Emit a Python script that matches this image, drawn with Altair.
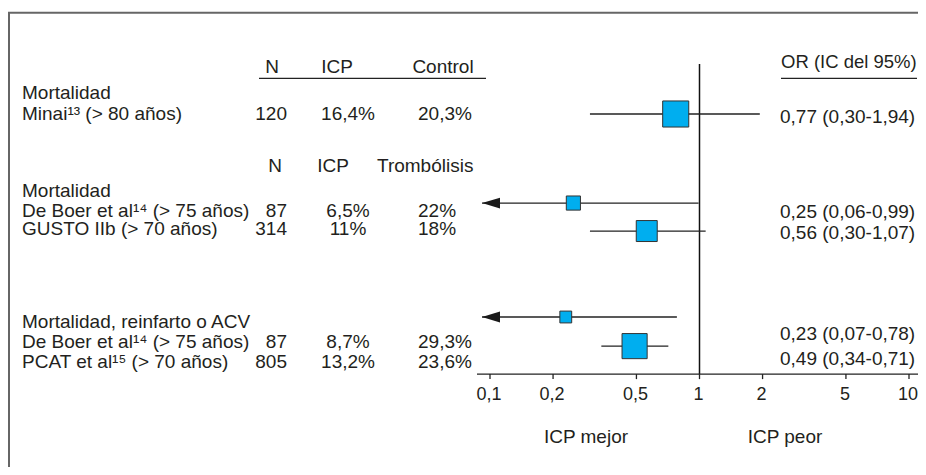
import altair as alt
import pandas as pd

# ------------------------------------------------------------------ data
group_titles = ["Mortalidad", "Mortalidad", "Mortalidad, reinfarto o ACV"]
study_labels = [
    "Minai¹³ (> 80 años)",
    "De Boer et al¹⁴ (> 75 años)",
    "GUSTO IIb (> 70 años)",
    "De Boer et al¹⁴ (> 75 años)",
    "PCAT et al¹⁵ (> 70 años)",
]
n_values = ["120", "87", "314", "87", "805"]
icp_values = ["16,4%", "6,5%", "11%", "8,7%", "13,2%"]
comparator_values = ["20,3%", "22%", "18%", "29,3%", "23,6%"]
odds_ratio = [0.77, 0.25, 0.56, 0.23, 0.49]
ci_low = [0.30, 0.06, 0.30, 0.07, 0.34]
ci_high = [1.94, 0.99, 1.07, 0.78, 0.71]
box_weight = [6.8, 2.0, 4.4, 1.4, 6.3]
or_labels = ["0,77 (0,30-1,94)", "0,25 (0,06-0,99)", "0,56 (0,30-1,07)",
             "0,23 (0,07-0,78)", "0,49 (0,34-0,71)"]
header_1 = ["N", "ICP", "Control"]
header_2 = ["N", "ICP", "Trombólisis"]
or_header = ["OR (IC del 95%)"]
tick_values = [0.1, 0.2, 0.5, 1, 2, 5, 10]
tick_labels = ["0,1", "0,2", "0,5", "1", "2", "5", "10"]
side_labels = ["ICP mejor", "ICP peor"]

# ------------------------------------------------------------------ layout
W, H = 910, 459
ROW = 28.0            # px per row unit
Y0 = 106.0            # px of row 0
LOG_PX = 209.5        # px per decade
X1 = 691.5            # px of OR = 1
x_dom = [10 ** (-X1 / LOG_PX), 10 ** ((W - X1) / LOG_PX)]
y_dom = [-Y0 / ROW, (H - Y0) / ROW]
ARROW_AT = 10 ** ((474 - X1) / LOG_PX)

marker_rows = [0.0, 3.18, 4.18, 7.25, 8.29]
label_rows = [0.21, 3.68, 4.32, 8.36, 9.07]
or_rows = [0.32, 3.71, 4.46, 8.07, 8.96]
group_rows = [-0.54, 2.96, 7.64]
h1_row, h2_row, orh_row, uline_row = -1.46, 2.07, -1.64, -1.275
vline_top, axis_row, side_row = -1.79, 9.29, 11.75
tick_end_row = axis_row + 5 / ROW
tick_label_row = 10.2

FONT = "Liberation Sans"
FS = 19
TXT = "#231F20"
LINE = "#222222"

xs = alt.Scale(type="log", domain=x_dom, nice=False, zero=False)
ys = alt.Scale(domain=y_dom, reverse=True, nice=False, zero=False)

df = pd.DataFrame({
    "label": study_labels, "n": n_values, "icp": icp_values, "ctrl": comparator_values,
    "or": odds_ratio, "lo": ci_low, "hi": ci_high, "w": box_weight, "ortxt": or_labels,
    "mrow": marker_rows, "lrow": label_rows, "orow": or_rows,
})
df["lo_clip"] = [max(v, ARROW_AT) for v in df["lo"]]
df["arrow"] = [v < ARROW_AT for v in df["lo"]]

ticks = pd.DataFrame({"v": tick_values, "t": tick_labels,
                      "y1": [axis_row] * len(tick_values),
                      "y2": [tick_end_row] * len(tick_values),
                      "ly": [tick_label_row] * len(tick_values)})

one = pd.DataFrame({"a": [0]})


def Y(field):
    return alt.Y(field, type="quantitative", scale=ys, axis=None)


def X(field):
    return alt.X(field, type="quantitative", scale=xs, axis=None)


def text_layer(data, field, yfield, x, align, size=FS):
    return alt.Chart(data).mark_text(
        align=align, baseline="alphabetic", font=FONT, fontSize=size, color=TXT
    ).encode(x=alt.value(x), y=Y(yfield), text=alt.Text(field, type="nominal"))


layers = []

# frame (top and left)
layers.append(alt.Chart(one).mark_rule(color="#666666", strokeWidth=2).encode(
    x=alt.value(0), x2=alt.value(W), y=alt.value(4.8)))
layers.append(alt.Chart(one).mark_rule(color="#666666", strokeWidth=2).encode(
    x=alt.value(1), y=alt.value(4), y2=alt.value(H)))

# reference line at OR = 1
layers.append(alt.Chart(pd.DataFrame({"x": [1.0], "y1": [vline_top], "y2": [axis_row]}))
              .mark_rule(color="#111111", strokeWidth=1.5)
              .encode(x=X("x"), y=Y("y1"), y2="y2:Q"))

# axis baseline, ticks and tick labels
layers.append(alt.Chart(pd.DataFrame({"y": [axis_row]}))
              .mark_rule(color=LINE, strokeWidth=1.3)
              .encode(x=alt.value(469), x2=alt.value(W), y=Y("y")))
layers.append(alt.Chart(ticks).mark_rule(color=LINE, strokeWidth=1.3)
              .encode(x=X("v"), y=Y("y1"), y2="y2:Q"))
layers.append(alt.Chart(ticks).mark_text(
    align="center", baseline="alphabetic", font=FONT, fontSize=18, color=TXT, dx=-1
).encode(x=X("v"), y=Y("ly"), text="t:N"))

# header underlines
layers.append(alt.Chart(pd.DataFrame({"y": [uline_row]})).mark_rule(color=LINE, strokeWidth=1.3)
              .encode(x=alt.value(251), x2=alt.value(478), y=Y("y")))
layers.append(alt.Chart(pd.DataFrame({"y": [uline_row]})).mark_rule(color=LINE, strokeWidth=1.3)
              .encode(x=alt.value(773), x2=alt.value(909), y=Y("y")))

# confidence intervals
layers.append(alt.Chart(df).mark_rule(color=LINE, strokeWidth=1.3).encode(
    x=X("lo_clip"), x2="hi:Q", y=Y("mrow")))

# arrows for intervals beyond the axis
layers.append(alt.Chart(df[df["arrow"]]).mark_point(
    shape="M 0 0 L 2 -0.6 L 2 0.6 Z", filled=True, color="#1a1a1a", opacity=1, size=324
).encode(x=X("lo_clip"), y=Y("mrow")))

# boxes
layers.append(alt.Chart(df).mark_point(
    shape="square", filled=True, fill="#00AEEF", stroke="#333333", strokeWidth=1, opacity=1
).encode(
    x=X("or"), y=Y("mrow"),
    size=alt.Size("w:Q", scale=alt.Scale(domain=[0, 10], range=[0, 1000]), legend=None),
))

# left table
layers.append(text_layer(pd.DataFrame({"t": group_titles, "y": group_rows}), "t", "y", 14, "left"))
layers.append(text_layer(df, "label", "lrow", 14, "left"))
layers.append(text_layer(df, "n", "lrow", 279, "right"))
layers.append(text_layer(df, "icp", "lrow", 340, "center"))
layers.append(text_layer(df, "ctrl", "lrow", 410, "left"))

h1 = pd.DataFrame({"t": header_1, "y": [h1_row] * 3})
h2 = pd.DataFrame({"t": header_2, "y": [h2_row] * 3})
layers.append(text_layer(h1.iloc[[0]], "t", "y", 264, "center"))
layers.append(text_layer(h1.iloc[[1]], "t", "y", 329, "center"))
layers.append(text_layer(h1.iloc[[2]], "t", "y", 435, "center"))
layers.append(text_layer(h2.iloc[[0]], "t", "y", 267, "center"))
layers.append(text_layer(h2.iloc[[1]], "t", "y", 325, "center"))
layers.append(text_layer(h2.iloc[[2]], "t", "y", 369, "left"))

# right column
layers.append(text_layer(pd.DataFrame({"t": or_header, "y": [orh_row]}), "t", "y", 773, "left", 18.5))
layers.append(text_layer(df, "ortxt", "orow", 772, "left"))

# bottom labels
side = pd.DataFrame({"t": side_labels, "y": [side_row] * 2})
layers.append(text_layer(side.iloc[[0]], "t", "y", 578, "center"))
layers.append(text_layer(side.iloc[[1]], "t", "y", 777, "center"))

chart = alt.layer(*layers).properties(
    width=W, height=H, autosize=alt.AutoSizeParams(type="none"), padding=0
).configure_view(stroke=None)

chart.save("out.html", embed_options={"renderer": "svg", "actions": False})
